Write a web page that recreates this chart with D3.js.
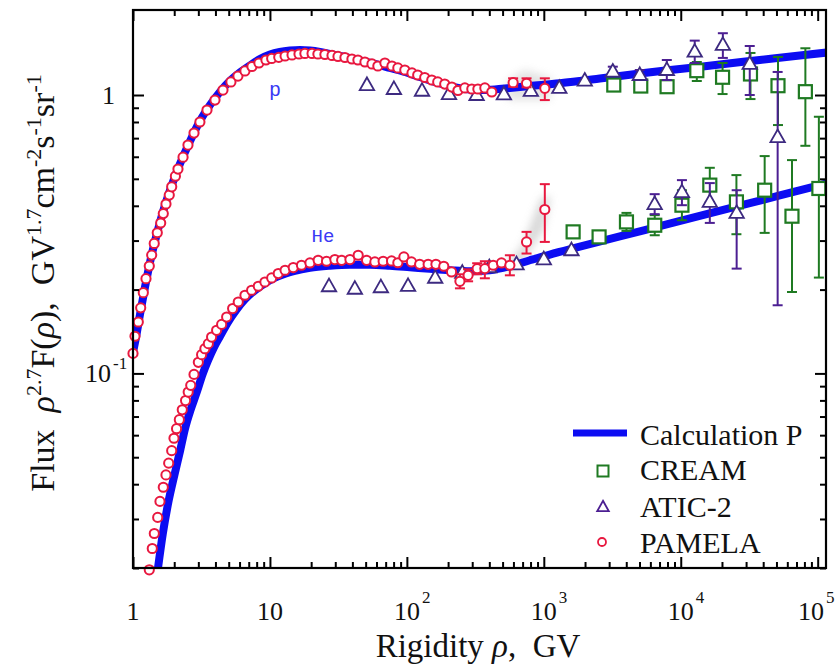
<!DOCTYPE html>
<html>
<head>
<meta charset="utf-8">
<script src="https://cdn.jsdelivr.net/npm/d3@7"></script>
<style>
  html, body { margin: 0; padding: 0; background: #fff; }
  svg { display: block; }
  text { font-family: "Liberation Serif", "Times New Roman", serif; fill: #111; }
</style>
</head>
<body>
<svg id="chart" width="836" height="666"></svg>
<script>
// ---------------- data: rigidity R (GV), flux x R^2.7 ----------------
// model curves
const calcP = [
  [1.0,0.119],[1.052,0.1348],[1.125,0.163],[1.223,0.2039],[1.331,0.2507],[1.447,0.2985],
  [1.574,0.3492],[1.712,0.402],[1.862,0.4551],[2.2,0.5647],[2.61,0.6832],[3.08,0.8064],
  [3.65,0.9206],[4.31,1.025],[5.1,1.123],[6.04,1.205],[7.14,1.277],[8.45,1.347],
  [10.0,1.398],[11.8,1.428],[14.0,1.445],[16.6,1.452],[19.6,1.445],[23.2,1.428],
  [27.4,1.404],[35.3,1.37],[45.4,1.331],[58.4,1.293],[75.2,1.251],[96.6,1.21],
  [124,1.161],[160,1.114],[206,1.077],[265,1.051],[341,1.042],[439,1.047],[565,1.06],
  [791,1.077],[1309,1.102],[2564,1.146],[5020,1.195],[9840,1.24],[19300,1.287],
  [37700,1.336],[73900,1.387],[118000,1.422]
];
const calcHe = [
  [1.517,0.01972],[1.651,0.02657],[1.816,0.03464],[2.01,0.04333],[2.21,0.05284],
  [2.4,0.0634],[2.64,0.0742],[2.92,0.0855],[3.22,0.0992],[3.53,0.1113],[3.9,0.124],
  [4.32,0.1359],[4.93,0.1526],[5.65,0.1685],[6.57,0.1845],[7.77,0.1989],[9.19,0.2107],
  [10.9,0.2206],[12.9,0.228],[15.2,0.2337],[19.6,0.2396],[27.4,0.2436],[38.4,0.2456],
  [53.7,0.2456],[75.2,0.2436],[105,0.2406],[147,0.2375],[206,0.2347],[288,0.2327],
  [403,0.2347],[565,0.2427],[791,0.2549],[1107,0.2673],[1832,0.2851],[3589,0.3105],
  [7030,0.3379],[13760,0.3677],[27000,0.4003],[52900,0.4357],[118000,0.4825]
];

// PAMELA protons: [R, F] or [R, F, low, high]
const pamelaP = [
  [1.0,0.118],[1.034,0.136],[1.093,0.153],[1.138,0.172],[1.189,0.195],[1.244,0.219],
  [1.315,0.243],[1.369,0.266],[1.429,0.293],[1.504,0.32],[1.593,0.347],[1.664,0.375],
  [1.741,0.406],[1.84,0.437],[1.917,0.468],[2.04,0.511],[2.13,0.542],[2.32,0.598],
  [2.52,0.661],[2.79,0.73],[3.08,0.8],[3.47,0.883],[3.97,0.959],[4.54,1.042],
  [5.19,1.114],[5.84,1.17],[6.57,1.22],[7.39,1.266],[8.31,1.303],[9.35,1.336],
  [10.3,1.353],[11.6,1.366],[12.9,1.381],[14.5,1.393],[16.3,1.404],[18.0,1.41],
  [20.3,1.41],[22.4,1.404],[25.2,1.398],[28.4,1.387],[31.4,1.376],[35.3,1.364],
  [39.7,1.347],[43.9,1.336],[49.4,1.314],[55.6,1.293],[61.4,1.271],[69.1,1.303],
  [77.8,1.271],[85.9,1.251],[96.6,1.23],[109,1.2],[120,1.18],[135,1.156],[152,1.132],
  [168,1.114],[189,1.095],[213,1.068],[236,1.038],[265,1.06],[298,1.051],[330,1.051],
  [371,1.06],[417,1.025],
  [597,1.107,1.071,1.148],[748,1.102,1.066,1.148],[1017,1.057,0.959,1.148]
];
// PAMELA helium
const pamelaHe = [
  [1.315,0.0197],[1.383,0.0235],[1.431,0.0266],[1.515,0.0304],[1.574,0.0347],
  [1.664,0.039],[1.741,0.0432],[1.822,0.0476],[1.917,0.0528],[1.992,0.0585],
  [2.08,0.0633],[2.18,0.0682],[2.29,0.074],[2.42,0.0799],[2.53,0.0857],[2.64,0.0906],
  [2.79,0.0992],[3.0,0.1096],[3.17,0.1168],[3.35,0.1227],[3.55,0.1279],[3.75,0.1351],
  [4.08,0.1428],[4.44,0.15],[4.83,0.1594],[5.34,0.171],[5.87,0.1805],[6.57,0.1909],
  [7.35,0.1989],[8.22,0.2056],[9.19,0.213],[10.3,0.2202],[11.5,0.2284],[12.9,0.2347],
  [14.8,0.24],[17.0,0.2446],[19.6,0.2493],[22.5,0.2549],[25.9,0.2529],[29.8,0.2564],
  [33.4,0.2549],[38.4,0.2564],[44.1,0.2657],[50.8,0.2549],[58.4,0.2514],[67.1,0.2529],
  [77.3,0.2535],[85.9,0.2497],[95.1,0.262],[108,0.2514],[124,0.2466],[143,0.2466],
  [163,0.2466],[186,0.2426],[212,0.2314],
  [244,0.2142,0.2021,0.227],[280,0.2251,0.2142,0.2366],[326,0.2379,0.227,0.2487],
  [371,0.2379,0.2196,0.2529],[427,0.2446],[491,0.2493],[565,0.2446,0.2251,0.2657],
  [748,0.2967,0.2695,0.3224],[1017,0.388,0.2967,0.4784]
];

// ATIC-2 protons and helium
const aticP = [
  [51.1,1.086],[80.4,1.051],[129,1.036],[203,1.008],[323,1.0],[511,1.006],[804,1.034],
  [1298,1.06],[1991,1.126],[3190,1.213,1.17,1.264],[5020,1.18,1.132,1.23],
  [7910,1.23,1.132,1.336],[12650,1.431,1.303,1.568],[20300,1.513,1.359,1.667],
  [31900,1.293,1.0,1.5],[51000,0.706,0.1757,1.21]
];
const aticHe = [
  [27.0,0.2056],[41.7,0.2014],[64.6,0.2039],[102,0.2061],[161,0.2206],[254,0.2299],
  [400,0.2406],[632,0.2466],[1000,0.257],[1592,0.2769],
  [6450,0.4055,0.3733,0.4404],[10200,0.4477,0.402,0.4946],[16300,0.4132,0.3472,0.4826],
  [25600,0.3772,0.2379,0.455]
];

// CREAM protons and helium
const creamP = [
  [3243,1.086],[5105,1.077],[7945,1.071],[13100,1.223,1.123,1.314],
  [20200,1.158,1.008,1.303],[32300,1.19,0.967,1.416],[51300,1.08,0.78,1.37],
  [81300,1.028,0.657,1.472]
];
const creamHe = [
  [1637,0.3224],[2533,0.3093],[4014,0.3501,0.325,0.3772],[6457,0.3406,0.3135,0.3702],
  [10200,0.402,0.355,0.455],[16300,0.4746,0.4122,0.5477],[25500,0.4132,0.3162,0.5156],
  [41000,0.4551,0.3197,0.6034],[64900,0.367,0.1961,0.5837],[102000,0.4616,0.2209,0.8354]
];

// shaded regions around the PAMELA high-rigidity points
const shadeP = [[546,0.959],[1107,0.959],[1143,1.151],[727,1.23],[546,1.132]];
const shadeHe = [[500,0.236],[640,0.236],[1000,0.33],[1120,0.43],[960,0.43],[700,0.29]];

// axes
const xMajor = [1, 10, 100, 1000, 10000, 100000];
const xTickBase = ["1", "10", "10", "10", "10", "10"];
const xTickExp = ["", "", "2", "3", "4", "5"];
const yMajor = [0.1, 1];
const yTickBase = ["10", "1"];
const yTickExp = ["-1", ""];

const legendNames = ["Calculation P", "CREAM", "ATIC-2", "PAMELA"];

// ---------------- layout ----------------
const COL = {
  calc: "#0c0cf2", pamela: "#e8183f", atic: "#3d2a80", aticBar: "#4c1f92",
  cream: "#1f7a22", label: "#3a3af5"
};
const W = 836;
const svg = d3.select("#chart");
const P = { left: 133, right: 826, top: 10, bottom: 568 };

const x = d3.scaleLog().domain([1, 1.15e5]).range([P.left, P.right]);
const y = d3.scaleLog().domain([0.02, 2.02]).range([P.bottom, P.top]);

const defs = svg.append("defs");
defs.append("clipPath").attr("id", "plotClip")
  .append("rect").attr("x", P.left).attr("y", P.top)
  .attr("width", P.right - P.left).attr("height", P.bottom - P.top);
defs.append("filter").attr("id", "soft").attr("x", "-50%").attr("y", "-50%")
  .attr("width", "200%").attr("height", "200%")
  .append("feGaussianBlur").attr("stdDeviation", 4);

// shaded patches
const area = d3.line().x(d => x(d[0])).y(d => y(d[1]));
[[shadeP, 0.28], [shadeHe, 0.38]].forEach(([pts, op]) => {
  svg.append("path").attr("d", area(pts) + "Z")
    .attr("fill", "#9a9a9a").attr("opacity", op).attr("filter", "url(#soft)");
});

// model curves
const line = d3.line().x(d => x(d[0])).y(d => y(d[1])).curve(d3.curveMonotoneX);
const curves = svg.append("g").attr("clip-path", "url(#plotClip)");
[calcP, calcHe].forEach(c => {
  curves.append("path").attr("d", line(c)).attr("fill", "none")
    .attr("stroke", COL.calc).attr("stroke-width", 8);
});

// error bars helper
function errorBars(data, color, cap) {
  const g = svg.append("g").attr("stroke", color).attr("stroke-width", 2).attr("fill", "none");
  data.filter(d => d.length > 2).forEach(d => {
    const cx = x(d[0]), y0 = y(d[2]), y1 = y(d[3]);
    g.append("line").attr("x1", cx).attr("x2", cx).attr("y1", y0).attr("y2", y1);
    g.append("line").attr("x1", cx - cap).attr("x2", cx + cap).attr("y1", y0).attr("y2", y0);
    g.append("line").attr("x1", cx - cap).attr("x2", cx + cap).attr("y1", y1).attr("y2", y1);
  });
}

const triPath = "M0,-7.6L7.2,5L-7.2,5Z";

// CREAM
[creamP, creamHe].forEach(ds => {
  errorBars(ds, COL.cream, 5);
  svg.append("g").selectAll("rect").data(ds).join("rect")
    .attr("x", d => x(d[0]) - 6.5).attr("y", d => y(d[1]) - 6.5)
    .attr("width", 13).attr("height", 13)
    .attr("fill", "#fff").attr("stroke", COL.cream).attr("stroke-width", 2.2);
});

// ATIC-2
[aticP, aticHe].forEach(ds => {
  errorBars(ds, COL.aticBar, 5);
  svg.append("g").selectAll("path").data(ds).join("path")
    .attr("d", triPath)
    .attr("transform", d => `translate(${x(d[0])},${y(d[1])})`)
    .attr("fill", "#fff").attr("stroke", COL.atic).attr("stroke-width", 1.8)
    .attr("stroke-linejoin", "miter");
});

// PAMELA
[pamelaP, pamelaHe].forEach(ds => {
  errorBars(ds, COL.pamela, 5);
  svg.append("g").selectAll("circle").data(ds).join("circle")
    .attr("cx", d => x(d[0])).attr("cy", d => y(d[1])).attr("r", 4.6)
    .attr("fill", "#fff").attr("stroke", COL.pamela).attr("stroke-width", 2);
});

// curve labels
svg.append("text").attr("x", x(10.9)).attr("y", y(0.99))
  .attr("text-anchor", "middle")
  .style("font-family", "'Liberation Mono', 'DejaVu Sans Mono', monospace")
  .style("font-size", "20px").style("fill", COL.label).text("p");
svg.append("text").attr("x", x(24.4)).attr("y", y(0.296))
  .attr("text-anchor", "middle")
  .style("font-family", "'Liberation Mono', 'DejaVu Sans Mono', monospace")
  .style("font-size", "19px").style("fill", COL.label).text("He");

// ---------------- axes ----------------
const xMinor = [];
for (let d = 0; d < 5; d++) for (let k = 2; k <= 9; k++) xMinor.push(k * Math.pow(10, d));
const yMinor = [];
[0.01, 0.1].forEach(b => { for (let k = 2; k <= 9; k++) { const v = k * b; if (v >= 0.02) yMinor.push(v); } });

function tickAxis(axisFn, scale, values, size, tx, ty) {
  const g = svg.append("g").attr("transform", `translate(${tx},${ty})`)
    .call(axisFn(scale).tickValues(values).tickSize(-size).tickFormat(""));
  g.select(".domain").remove();
  g.selectAll("line").attr("stroke", "#000").attr("stroke-width", 2);
}
tickAxis(d3.axisBottom, x, xMajor, 11, 0, P.bottom);
tickAxis(d3.axisBottom, x, xMinor, 6, 0, P.bottom);
tickAxis(d3.axisTop, x, xMajor, 11, 0, P.top);
tickAxis(d3.axisTop, x, xMinor, 6, 0, P.top);
tickAxis(d3.axisLeft, y, yMajor, 11, P.left, 0);
tickAxis(d3.axisLeft, y, yMinor, 6, P.left, 0);
tickAxis(d3.axisRight, y, yMajor, 11, P.right, 0);
tickAxis(d3.axisRight, y, yMinor, 6, P.right, 0);

svg.append("rect").attr("x", P.left).attr("y", P.top)
  .attr("width", P.right - P.left).attr("height", P.bottom - P.top)
  .attr("fill", "none").attr("stroke", "#000").attr("stroke-width", 2.2);

// x tick labels: base centred on the tick, exponent hanging to its right
xMajor.forEach((v, i) => {
  const t = svg.append("text").attr("y", 620)
    .attr("text-anchor", "middle").style("font-size", "26px").text(xTickBase[i]);
  const w = t.node().getComputedTextLength();
  let cx = x(v);
  if (xTickExp[i]) {
    const s = svg.append("text").attr("y", 603).style("font-size", "17px").text(xTickExp[i]);
    const sw = s.node().getComputedTextLength();
    // keep the last exponent inside the canvas
    cx = Math.min(cx, W - 1.5 - sw - 2 - w / 2);
    s.attr("x", cx + w / 2 + 2);
  }
  t.attr("x", cx);
});
// y tick labels
yMajor.forEach((v, i) => {
  if (yTickExp[i]) {
    svg.append("text").attr("x", 111).attr("y", y(v) + 9).attr("text-anchor", "end")
      .style("font-size", "26px").text(yTickBase[i]);
    svg.append("text").attr("x", 113).attr("y", y(v) - 4)
      .style("font-size", "17px").text(yTickExp[i]);
  } else {
    svg.append("text").attr("x", 115).attr("y", y(v) + 9).attr("text-anchor", "end")
      .style("font-size", "26px").text(yTickBase[i]);
  }
});

// axis titles
const xt = svg.append("text").attr("x", 478).attr("y", 657).attr("text-anchor", "middle")
  .style("font-size", "33px").style("white-space", "pre");
xt.append("tspan").text("Rigidity ");
xt.append("tspan").style("font-style", "italic").text("\u03C1");
xt.append("tspan").text(",  GV");

const yt = svg.append("text").attr("transform", "translate(54,283) rotate(-90)")
  .attr("text-anchor", "middle").style("font-size", "34px").style("white-space", "pre");
const SUP = 13;
function seg(txt, opts = {}) {
  const ts = yt.append("tspan").text(txt);
  if (opts.italic) ts.style("font-style", "italic");
  if (opts.sup) ts.attr("dy", -SUP).style("font-size", "22px");
  if (opts.down) ts.attr("dy", SUP);
  return ts;
}
seg("Flux  ");
seg("\u03C1", { italic: true });
seg("2.7", { sup: true });
seg("F(", { down: true });
seg("\u03C1", { italic: true });
seg("),  GV");
seg("1.7", { sup: true });
seg("cm", { down: true });
seg("-2", { sup: true });
seg("s", { down: true });
seg("-1", { sup: true });
seg("sr", { down: true });
seg("-1", { sup: true });

// ---------------- legend ----------------
const lg = svg.append("g");
const rows = [445, 480, 517, 553];
lg.append("line").attr("x1", 573).attr("x2", 627).attr("y1", 433).attr("y2", 433)
  .attr("stroke", COL.calc).attr("stroke-width", 7);
lg.append("rect").attr("x", 603 - 5.5).attr("y", 471 - 5.5).attr("width", 11).attr("height", 11)
  .attr("fill", "#fff").attr("stroke", COL.cream).attr("stroke-width", 2);
lg.append("path").attr("d", "M0,-6.2L5.8,4.2L-5.8,4.2Z")
  .attr("transform", "translate(603,507)")
  .attr("fill", "#fff").attr("stroke", COL.aticBar).attr("stroke-width", 1.8);
lg.append("circle").attr("cx", 602).attr("cy", 542).attr("r", 4)
  .attr("fill", "#fff").attr("stroke", COL.pamela).attr("stroke-width", 1.8);
legendNames.forEach((n, i) => {
  lg.append("text").attr("x", 640).attr("y", rows[i]).style("font-size", "30px").text(n);
});
</script>
</body>
</html>
